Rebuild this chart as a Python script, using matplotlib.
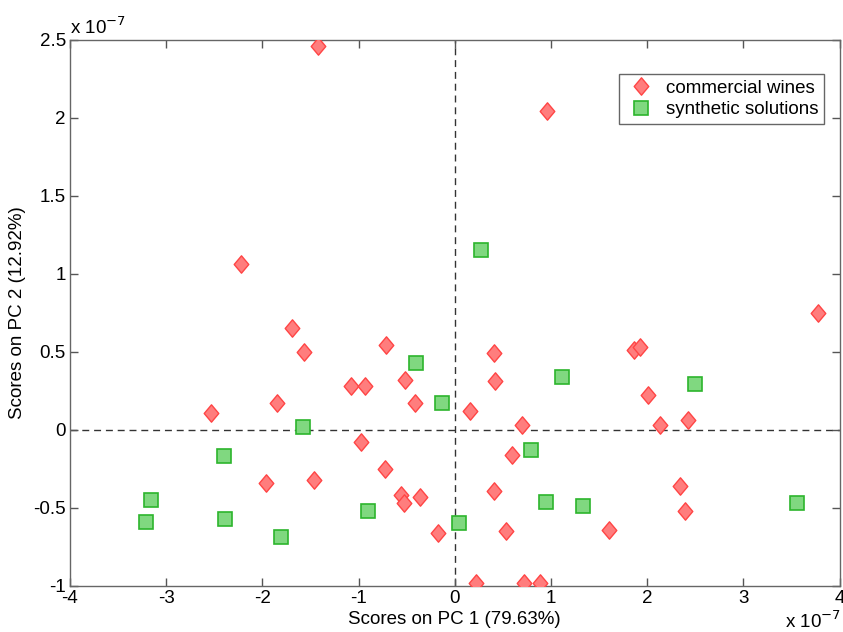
import numpy as np
import matplotlib.pyplot as plt
from matplotlib.path import Path

plt.rcParams['font.family'] = ['Liberation Sans', 'DejaVu Sans']

# PCA scores, in units of 1e-7
wine_pc1 = [-1.42, 0.96, -2.22, -1.69, -1.57, -0.71, -1.08, -0.935, -0.52, -0.41,
            -1.85, -2.53, -0.97, -0.73, -1.96, -1.46, -0.56, -0.53, -0.36, -0.17,
            0.41, 0.42, 0.155, 0.70, 1.86, 1.93, 2.01, 2.13, 2.43, 0.60,
            0.41, 0.53, 1.60, 2.34, 2.39, 0.22, 0.72, 0.89, 3.78]
wine_pc2 = [2.46, 2.04, 1.06, 0.65, 0.50, 0.54, 0.28, 0.28, 0.32, 0.17,
            0.17, 0.11, -0.08, -0.25, -0.34, -0.32, -0.42, -0.47, -0.43, -0.66,
            0.49, 0.31, 0.12, 0.03, 0.51, 0.53, 0.22, 0.03, 0.06, -0.16,
            -0.39, -0.65, -0.64, -0.36, -0.52, -0.98, -0.98, -0.98, 0.75]

synth_pc1 = [0.275, -0.40, -0.13, -1.58, -2.40, -3.16, -3.21, -2.39, -1.81,
             -0.90, 0.045, 0.79, 0.95, 1.33, 1.11, 2.50, 3.56]
synth_pc2 = [1.15, 0.43, 0.17, 0.02, -0.17, -0.45, -0.59, -0.57, -0.69,
             -0.52, -0.60, -0.13, -0.465, -0.49, 0.34, 0.29, -0.47]

x_ticks = [-4, -3, -2, -1, 0, 1, 2, 3, 4]
y_ticks = [-1, -0.5, 0, 0.5, 1, 1.5, 2, 2.5]
y_tick_labels = ['-1', '-0.5', '0', '0.5', '1', '1.5', '2', '2.5']

# slightly narrow diamond marker
diamond = Path([(0, 1), (0.84, 0), (0, -1), (-0.84, 0), (0, 1)],
               [Path.MOVETO, Path.LINETO, Path.LINETO, Path.LINETO, Path.CLOSEPOLY])

fs = 13.5

fig = plt.figure(figsize=(8.43, 6.32), dpi=100)
ax = fig.add_axes([70 / 843, 1 - 585.7 / 632, 769.5 / 843, 546 / 632])

ax.axhline(0, color='#333333', linestyle=(0, (5, 3.5)), linewidth=1.0, zorder=1)
ax.axvline(0, color='#333333', linestyle=(0, (5, 3.5)), linewidth=1.0, zorder=1)

ax.plot(wine_pc1, wine_pc2, linestyle='none', marker=diamond, markersize=12.5,
        markerfacecolor='#ff7d7d', markeredgecolor='#ff4545', markeredgewidth=1.0,
        label='commercial wines', zorder=3)
ax.plot(synth_pc1, synth_pc2, linestyle='none', marker='s', markersize=9.5,
        markerfacecolor='#80d880', markeredgecolor='#2cb52c', markeredgewidth=1.2,
        label='synthetic solutions', zorder=3)

ax.set_xlim(-4, 4)
ax.set_ylim(-1, 2.5)
ax.set_xticks(x_ticks)
ax.set_xticklabels([str(t) for t in x_ticks])
ax.set_yticks(y_ticks)
ax.set_yticklabels(y_tick_labels)
ax.tick_params(direction='in', length=6, width=1, colors='#555555',
               labelcolor='black', labelsize=fs, top=True, right=True, pad=3)
for s in ax.spines.values():
    s.set_color('#666666')
    s.set_linewidth(1.0)

ax.set_xlabel('Scores on PC 1 (79.63%)', fontsize=fs, labelpad=3)
ax.set_ylabel('Scores on PC 2 (12.92%)', fontsize=fs, labelpad=5)

ax.text(0.0, 1.004, r'x 10$^{-7}$', transform=ax.transAxes, fontsize=fs,
        ha='left', va='bottom')
fig.text(0.997, 0.0, r'x 10$^{-7}$', fontsize=fs, ha='right', va='bottom')

leg = ax.legend(loc='upper right', bbox_to_anchor=(0.9805, 0.9375), fontsize=fs,
                fancybox=False, framealpha=1, edgecolor='#666666',
                borderpad=0.3, handletextpad=0.5, labelspacing=0.25,
                handlelength=1.7, borderaxespad=0)
leg.get_frame().set_linewidth(1.0)

fig.savefig('out.png', dpi=100)
